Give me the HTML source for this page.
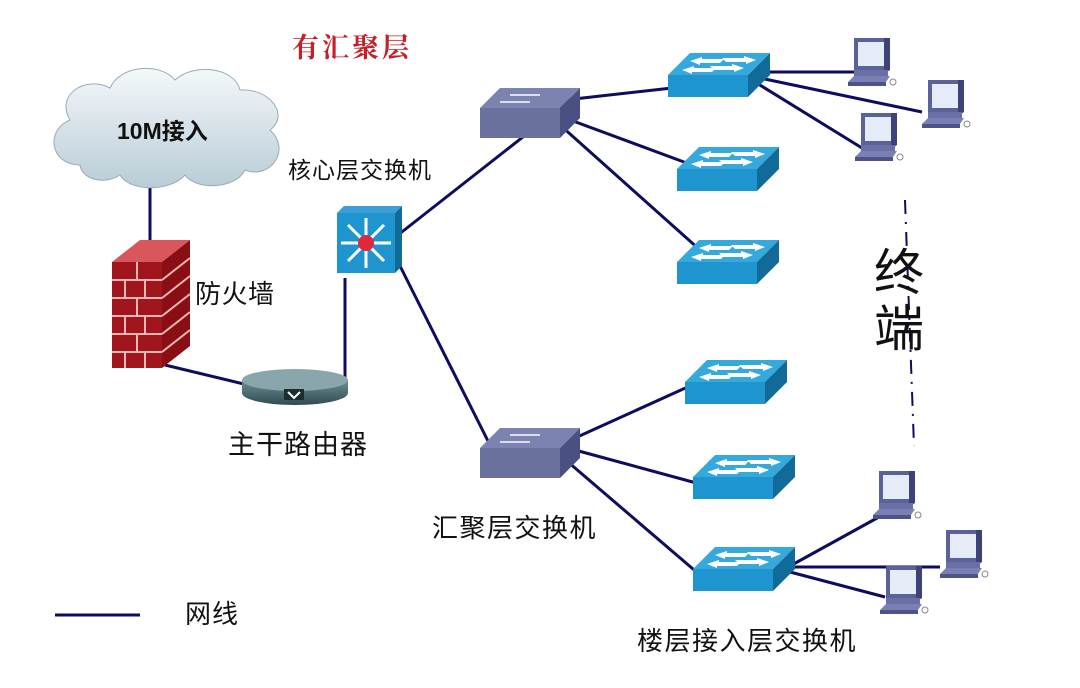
<!DOCTYPE html>
<html><head><meta charset="utf-8"><style>
html,body{margin:0;padding:0;background:#fff;}
svg{display:block;}
text{font-family:"Liberation Sans","Noto Sans CJK SC",sans-serif;fill:#111;}
</style></head><body>
<svg width="1080" height="688" viewBox="0 0 1080 688" xmlns="http://www.w3.org/2000/svg">
<defs>
<linearGradient id="cg" x1="0" y1="0" x2="0" y2="1"><stop offset="0" stop-color="#f4f8fa"/><stop offset="1" stop-color="#b9ccd6"/></linearGradient>
<linearGradient id="rg" x1="0" y1="0" x2="0" y2="1"><stop offset="0" stop-color="#6f8e96"/><stop offset="1" stop-color="#2f4a52"/></linearGradient>
<g id="asw">
 <polygon points="0,22 22,0 102,0 80,22" fill="#35a9dc"/>
 <rect x="0" y="22" width="80" height="22" fill="#1f95cf"/>
 <polygon points="80,22 102,0 102,22 80,44" fill="#126a99"/>
 <polygon points="22,8 34,4 34,6 56,6 52,10 32,10 32,12" fill="#fff"/>
 <polygon points="84,8 72,4 72,6 50,6 54,10 74,10 74,12" fill="#fff" transform="translate(4,-1)"/>
 <polygon points="14,17 26,13 26,15 48,15 44,19 24,19 24,21" fill="#fff"/>
 <polygon points="76,15 64,11 64,13 42,13 46,17 66,17 66,19" fill="#fff"/>
</g>
<g id="agg">
 <polygon points="0,20 20,0 100,0 80,20" fill="#7d83b0"/>
 <rect x="0" y="20" width="80" height="30" fill="#6b719f"/>
 <polygon points="80,20 100,0 100,30 80,50" fill="#4b5083"/>
 <line x1="30" y1="7" x2="60" y2="7" stroke="#dde" stroke-width="2"/>
 <line x1="20" y1="14" x2="50" y2="14" stroke="#dde" stroke-width="2"/>
</g>
<g id="pc">
 <rect x="6" y="0" width="36" height="32" fill="#5b6299"/>
 <rect x="10" y="4" width="26" height="24" fill="#e6ecf7"/>
 <polygon points="36,0 42,0 42,32 36,36" fill="#3d4379"/>
 <rect x="6" y="32" width="34" height="6" fill="#6a70a6"/>
 <polygon points="0,44 6,38 42,38 38,44" fill="#7a80b4"/>
 <rect x="0" y="44" width="38" height="4" fill="#4d5389"/>
 <circle cx="45" cy="44" r="3" fill="none" stroke="#888" stroke-width="1"/>
</g>
</defs>

<text x="292" y="57" font-size="27" style="font-family:'Noto Serif CJK SC',serif;fill:#c61f27;font-weight:bold" letter-spacing="3">有汇聚层</text>

<g stroke="#0d0c5e" stroke-width="3" fill="none">
 <line x1="150" y1="180" x2="150" y2="255"/>
 <line x1="165" y1="365" x2="248" y2="385"/>
 <line x1="345" y1="380" x2="345" y2="278"/>
 <line x1="398" y1="235" x2="570" y2="100"/>
 <line x1="398" y1="262" x2="490" y2="445"/>
 <line x1="565" y1="100" x2="672" y2="88"/>
 <line x1="565" y1="118" x2="692" y2="165"/>
 <line x1="560" y1="125" x2="700" y2="250"/>
 <line x1="575" y1="438" x2="692" y2="385"/>
 <line x1="575" y1="450" x2="700" y2="484"/>
 <line x1="568" y1="462" x2="700" y2="575"/>
 <line x1="760" y1="72" x2="856" y2="72"/>
 <line x1="760" y1="78" x2="922" y2="112"/>
 <line x1="755" y1="82" x2="862" y2="148"/>
 <line x1="790" y1="566" x2="888" y2="512"/>
 <line x1="790" y1="567" x2="940" y2="567"/>
 <line x1="790" y1="572" x2="885" y2="597"/>
 <line x1="55" y1="615" x2="140" y2="615"/>
</g>
<line x1="905" y1="200" x2="914" y2="446" stroke="#0d0c5e" stroke-width="2" stroke-dasharray="14,8,2,8"/>

<path d="M80,165 C50,165 45,130 70,120 C55,95 85,75 110,88 C120,65 160,62 175,80 C195,62 235,68 240,90 C270,88 290,115 270,130 C292,150 270,180 245,170 C235,190 195,190 185,175 C170,192 130,192 120,175 C105,185 82,180 80,165 Z" fill="url(#cg)" stroke="#9ab" stroke-width="1"/>
<text x="117" y="139" font-size="23" font-weight="bold">10M接入</text>

<polygon points="112,262 140,240 190,240 162,262" fill="#d8565c"/>
<rect x="112" y="262" width="50" height="106" fill="#a1151c"/>
<polygon points="162,262 190,240 190,346 162,368" fill="#8a0f15"/>
<g stroke="#f2b8b8" stroke-width="2">
 <line x1="112" y1="280" x2="162" y2="280"/><line x1="112" y1="298" x2="162" y2="298"/><line x1="112" y1="316" x2="162" y2="316"/><line x1="112" y1="334" x2="162" y2="334"/><line x1="112" y1="352" x2="162" y2="352"/>
 <line x1="137" y1="262" x2="137" y2="280"/><line x1="125" y1="280" x2="125" y2="298"/><line x1="145" y1="280" x2="145" y2="298"/><line x1="137" y1="298" x2="137" y2="316"/><line x1="125" y1="316" x2="125" y2="334"/><line x1="145" y1="316" x2="145" y2="334"/><line x1="137" y1="334" x2="137" y2="352"/><line x1="125" y1="352" x2="125" y2="368"/><line x1="145" y1="352" x2="145" y2="368"/>
 <line x1="162" y1="280" x2="190" y2="258"/><line x1="162" y1="298" x2="190" y2="276"/><line x1="162" y1="316" x2="190" y2="294"/><line x1="162" y1="334" x2="190" y2="312"/><line x1="162" y1="352" x2="190" y2="330"/>
</g>
<text x="195" y="303" font-size="26" letter-spacing="0.5">防火墙</text>

<path d="M242,380 L242,393 A53,12 0 0 0 348,393 L348,380 Z" fill="url(#rg)"/>
<ellipse cx="295" cy="380" rx="53" ry="11" fill="#8aa6ad"/>
<rect x="284" y="389" width="20" height="11" fill="#1d2d30"/>
<path d="M288,392 L294,398 L300,392" stroke="#fff" stroke-width="2" fill="none"/>
<text x="228" y="454" font-size="27" letter-spacing="1">主干路由器</text>

<polygon points="337,213 344,206 402,206 395,213" fill="#3b9fd3"/>
<rect x="337" y="213" width="58" height="60" fill="#1f95cf"/>
<polygon points="395,213 402,206 402,266 395,273" fill="#126a99"/>
<g stroke="#fff" stroke-width="3">
 <line x1="366" y1="218" x2="366" y2="268"/><line x1="341" y1="243" x2="391" y2="243"/>
 <line x1="348" y1="225" x2="384" y2="261"/><line x1="384" y1="225" x2="348" y2="261"/>
</g>
<circle cx="366" cy="243" r="8" fill="#e0283c"/>
<text x="288" y="178" font-size="23" letter-spacing="1">核心层交换机</text>

<use href="#agg" x="480" y="88"/>
<use href="#agg" x="480" y="428"/>
<text x="432" y="537" font-size="26" letter-spacing="1.5">汇聚层交换机</text>

<use href="#asw" x="668" y="53"/>
<use href="#asw" x="677" y="147"/>
<use href="#asw" x="677" y="240"/>
<use href="#asw" x="685" y="360"/>
<use href="#asw" x="693" y="455"/>
<use href="#asw" x="693" y="547"/>

<use href="#pc" x="848" y="38"/>
<use href="#pc" x="922" y="80"/>
<use href="#pc" x="855" y="113"/>
<use href="#pc" x="873" y="471"/>
<use href="#pc" x="940" y="530"/>
<use href="#pc" x="880" y="566"/>

<text x="874" y="290" font-size="50">终</text>
<text x="874" y="346" font-size="50">端</text>

<text x="185" y="623" font-size="26" letter-spacing="1">网线</text>
<text x="637" y="650" font-size="26" letter-spacing="1.5">楼层接入层交换机</text>
</svg>
</body></html>
